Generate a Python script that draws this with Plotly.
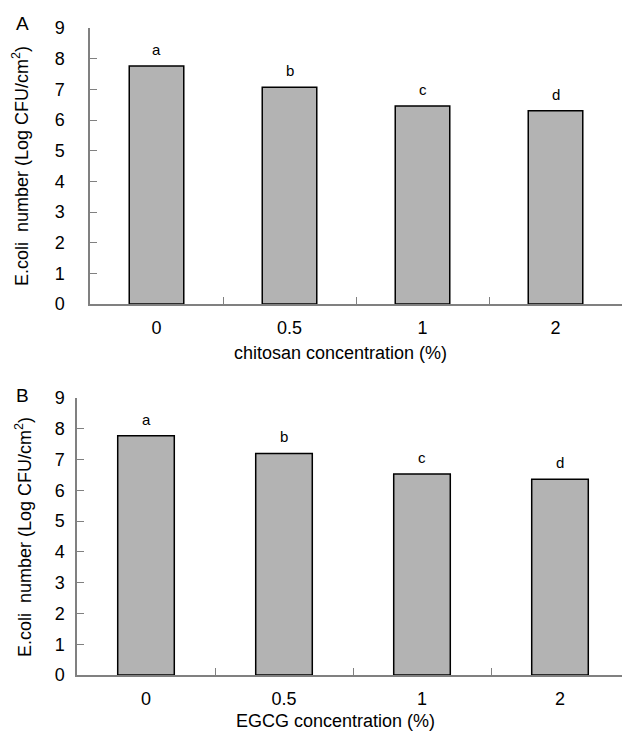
import plotly.graph_objects as go

categories = ["0", "0.5", "1", "2"]
chitosan_values = [7.76, 7.07, 6.46, 6.30]
egcg_values = [7.77, 7.20, 6.53, 6.36]
letters = ["a", "b", "c", "d"]
y_ticks = [0, 1, 2, 3, 4, 5, 6, 7, 8, 9]

FONT = "Liberation Sans, Arial, sans-serif"
BAR_FILL = "#b3b3b3"
AXIS_GRAY = "#808080"

OFF = 8  # default page body margin
W, H = 630 - OFF, 731 - OFF
xpos = list(range(len(categories)))

def px_x(p):
    return (p - OFF) / W

def px_y(p):
    return 1 - (p - OFF) / H

fig = go.Figure()

for vals, xa, ya in [(chitosan_values, "x", "y"), (egcg_values, "x2", "y2")]:
    fig.add_trace(go.Bar(
        x=xpos, y=vals, xaxis=xa, yaxis=ya,
        width=0.41,
        marker=dict(color=BAR_FILL, line=dict(color="black", width=1.5)),
        showlegend=False, hoverinfo="skip",
    ))
    for xi, v, l in zip(xpos, vals, letters):
        fig.add_annotation(
            x=xi, y=v, xref=xa, yref=ya, text=l, showarrow=False,
            yanchor="bottom", yshift=6,
            font=dict(family=FONT, size=15, color="black"),
        )

common_x = dict(
    range=[-0.5, len(categories) - 0.5], tickmode="array", tickvals=xpos,
    ticktext=categories, ticks="",
    minor=dict(tickmode="array",
               tickvals=[i + 0.5 for i in xpos],
               ticks="inside", ticklen=7, tickcolor=AXIS_GRAY, tickwidth=1.2,
               showgrid=False),
    showline=True, linecolor=AXIS_GRAY, automargin=False,
    linewidth=1.5, showgrid=False, zeroline=False,
    tickfont=dict(family=FONT, size=18, color="black"), fixedrange=True,
)
common_y = dict(
    range=[0, 9], tickmode="array", tickvals=y_ticks, automargin=False,
    ticks="inside", ticklen=7, tickcolor=AXIS_GRAY, tickwidth=1.2,
    showline=True, linecolor=AXIS_GRAY, linewidth=1.5, showgrid=False,
    zeroline=False, tickfont=dict(family=FONT, size=18, color="black"),
    fixedrange=True,
)

fig.update_layout(
    width=W, height=H,
    margin=dict(l=0, r=0, t=0, b=0, autoexpand=False),
    paper_bgcolor="white", plot_bgcolor="white",
    font=dict(family=FONT, color="black"),
    xaxis=dict(common_x, domain=[px_x(90), px_x(622)], anchor="y",
               ticklabelstandoff=7),
    yaxis=dict(common_y, domain=[px_y(304), px_y(28)], anchor="x",
               ticklabelstandoff=20),
    xaxis2=dict(common_x, domain=[px_x(77), px_x(629)], anchor="y2",
                ticklabelstandoff=7),
    yaxis2=dict(common_y, domain=[px_y(675), px_y(398)], anchor="x2",
                ticklabelstandoff=7),
)

ytitle = "E.coli  number (Log CFU/cm<sup>2</sup>)"
titles = [
    dict(x=px_x(340), y=px_y(353), text="chitosan concentration (%)", textangle=0),
    dict(x=px_x(335), y=px_y(721), text="EGCG concentration (%)", textangle=0),
    dict(x=px_x(20), y=px_y(166), text=ytitle, textangle=-90),
    dict(x=px_x(23), y=px_y(537), text=ytitle, textangle=-90),
]
for t in titles:
    fig.add_annotation(xref="paper", yref="paper", showarrow=False,
                       xanchor="center", yanchor="middle",
                       font=dict(family=FONT, size=18, color="black"), **t)

for lab, x, y in [("A", 22, 23), ("B", 23, 395)]:
    fig.add_annotation(xref="paper", yref="paper", x=px_x(x), y=px_y(y),
                       text=lab, showarrow=False, xanchor="center",
                       yanchor="middle",
                       font=dict(family=FONT, size=19, color="black"))

fig.write_html("out.html")
